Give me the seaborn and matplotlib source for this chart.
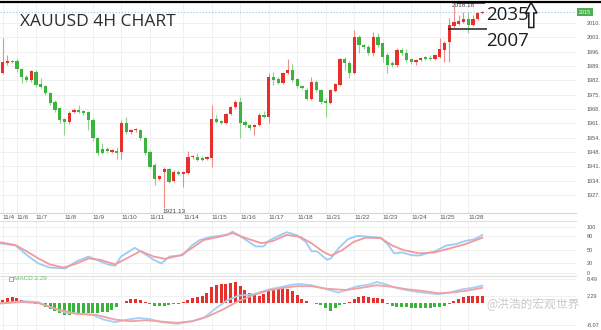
import numpy as np
import matplotlib
matplotlib.use("Agg")
import matplotlib.pyplot as plt
import seaborn as sns
from matplotlib.patches import Polygon, Rectangle

sns.set_theme(style="white")
plt.rcParams['font.family'] = ['DejaVu Sans', 'Noto Sans CJK SC']

# ---- 4H candles (index = bar number) ----
opens = [1986.0, 1990.8, 1991.8, 1991.8, 1987.9, 1984.1, 1982.7, 1986.5, 1980.7, 1979.8,
         1976.4, 1972.1, 1969.2, 1963.9, 1962.5, 1967.3, 1968.2, 1967.7, 1967.3, 1963.4,
         1954.8, 1949.5, 1949.5, 1948.0, 1948.5, 1948.0, 1962.0, 1957.7, 1958.6, 1958.6,
         1954.8, 1948.0, 1941.8, 1935.1, 1938.4, 1939.9, 1934.1, 1938.4, 1937.5, 1938.0,
         1945.6, 1945.6, 1945.2, 1944.7, 1945.2, 1963.9, 1962.9, 1962.0, 1966.3, 1969.7,
         1972.1, 1962.5, 1961.0, 1960.1, 1961.0, 1965.8, 1964.9, 1984.1, 1983.1, 1981.2,
         1986.0, 1987.4, 1983.1, 1979.8, 1977.8, 1973.5, 1981.7, 1977.8, 1972.6, 1971.6,
         1977.4, 1980.2, 1992.7, 1990.8, 1986.0, 2003.3, 1999.5, 1998.5, 1995.6, 2003.3,
         2000.4, 1994.7, 1990.8, 1989.9, 1997.1, 1995.6, 1992.7, 1991.3, 1992.3, 1993.7,
         1993.2, 1992.7, 1993.7, 1997.1, 2000.9, 2008.6, 2009.5, 2010.5, 2011.9, 2009.1,
         2011.9, 2014.8]
highs = [2002.8, 1994.7, 1992.3, 1992.7, 1988.4, 1985.1, 1987.4, 1987.4, 1983.6, 1980.2,
         1976.9, 1973.0, 1969.7, 1964.4, 1967.7, 1969.2, 1970.6, 1968.2, 1967.7, 1964.4,
         1955.3, 1952.4, 1950.4, 1949.5, 1950.4, 1963.4, 1964.9, 1959.1, 1959.6, 1959.1,
         1955.3, 1949.0, 1942.8, 1937.0, 1940.9, 1940.4, 1939.4, 1939.4, 1938.9, 1948.5,
         1946.6, 1947.6, 1946.0, 1946.0, 1970.6, 1965.8, 1963.4, 1966.8, 1970.2, 1973.0,
         1974.5, 1963.4, 1961.5, 1961.5, 1966.8, 1967.7, 1986.0, 1986.5, 1984.1, 1986.5,
         1992.7, 1990.3, 1983.6, 1980.2, 1978.8, 1984.1, 1982.7, 1978.3, 1974.0, 1978.3,
         1981.2, 1993.2, 1993.7, 1991.8, 2006.7, 2004.3, 2000.0, 1999.5, 2005.7, 2005.2,
         2000.9, 1995.6, 1991.8, 1998.0, 1998.0, 1997.5, 1993.2, 1992.7, 1993.7, 1994.2,
         1994.7, 1995.1, 2002.8, 2001.4, 2012.4, 2018.18, 2013.9, 2015.3, 2015.3, 2013.9,
         2015.3, 2015.8]
lows = [1985.5, 1989.9, 1990.8, 1986.5, 1981.2, 1981.7, 1981.7, 1979.3, 1978.8, 1975.4,
        1970.6, 1967.3, 1962.0, 1956.2, 1961.5, 1966.8, 1966.8, 1965.8, 1958.6, 1953.3,
        1946.6, 1947.1, 1947.6, 1947.6, 1944.7, 1944.7, 1956.7, 1956.7, 1957.7, 1953.8,
        1946.6, 1940.4, 1932.2, 1934.6, 1921.13, 1933.1, 1933.6, 1937.0, 1931.2, 1937.5,
        1944.7, 1943.7, 1943.7, 1944.2, 1940.9, 1962.0, 1961.5, 1961.5, 1965.8, 1969.2,
        1954.8, 1960.1, 1958.6, 1956.2, 1960.5, 1964.4, 1962.0, 1980.2, 1980.7, 1980.7,
        1985.5, 1981.7, 1978.8, 1978.3, 1973.0, 1973.0, 1976.9, 1971.1, 1964.9, 1971.1,
        1976.9, 1979.8, 1987.4, 1983.6, 1985.5, 1995.6, 1997.5, 1994.7, 1994.2, 1998.5,
        1991.3, 1986.0, 1988.9, 1988.9, 1994.7, 1991.3, 1990.3, 1989.9, 1991.8, 1992.3,
        1992.3, 1992.3, 1993.2, 1991.3, 1991.3, 2007.6, 2009.1, 2010.0, 2005.2, 2008.6,
        2011.5, 2014.4]
closes = [1991.3, 1991.8, 1991.3, 1987.9, 1984.1, 1982.7, 1987.0, 1980.2, 1979.3, 1976.4,
          1971.6, 1968.2, 1963.4, 1962.5, 1966.8, 1968.2, 1967.3, 1966.8, 1963.4, 1954.8,
          1947.6, 1947.6, 1948.5, 1949.0, 1947.6, 1962.0, 1957.7, 1958.6, 1959.1, 1954.8,
          1947.6, 1940.9, 1935.1, 1936.5, 1939.9, 1933.6, 1938.4, 1937.5, 1938.4, 1945.6,
          1946.0, 1944.2, 1944.2, 1945.6, 1963.9, 1962.5, 1962.0, 1966.3, 1969.7, 1972.1,
          1962.0, 1961.0, 1959.6, 1961.0, 1965.8, 1964.9, 1984.1, 1982.7, 1981.2, 1986.0,
          1987.4, 1982.7, 1979.8, 1978.8, 1973.5, 1981.7, 1977.8, 1972.1, 1971.6, 1977.8,
          1980.7, 1992.7, 1990.8, 1986.0, 2003.3, 1999.5, 1998.5, 1995.6, 2003.3, 1999.5,
          1993.7, 1989.9, 1989.9, 1997.1, 1995.6, 1992.3, 1991.3, 1992.3, 1993.2, 1992.7,
          1992.7, 1994.7, 1997.5, 2000.4, 2009.1, 2010.5, 2011.0, 2011.9, 2009.1, 2011.9,
          2014.8, 2015.3]

# ---- axis labels ----
day_ticks = [0, 3, 7, 13, 19, 25, 31, 38, 44, 50, 56, 62, 68, 74, 80, 86, 92, 98]
day_labels = ["11/4", "11/6", "11/7", "11/8", "11/9", "11/10", "11/11", "11/14", "11/15",
              "11/16", "11/17", "11/18", "11/21", "11/22", "11/23", "11/24", "11/25", "11/28"]
price_ticks = [2010.08, 2003.19, 1996.30, 1989.41, 1982.52, 1975.63, 1968.74, 1961.85,
               1954.96, 1948.07, 1941.18, 1934.29, 1927.40]
stoch_ticks = [100, 80, 50, 20, 0]
macd_ticks = [8.49, 2.29, -8.07]

# ---- stochastic (%K blue, %D red) ----
k_pos = [-0.6, 2.7, 5.1, 7.5, 9.9, 13.2, 15.6, 18.1, 19.7, 22.1, 23.7, 24.9, 27.8, 29.4,
         31.8, 33.4, 35.1, 37.9, 39.9, 41.5, 43.9, 47.2, 48.4, 49.6, 51.2, 53.3, 54.9, 56.1,
         57.7, 59.8, 61.8, 63.8, 65.0, 66.2, 68.3, 69.1, 70.7, 72.7, 74.7, 77.2, 79.6, 81.2,
         82.4, 84.0, 86.1, 87.7, 89.3, 90.9, 93.4, 95.4, 97.4, 99.4, 101.0]
k_val = [64, 59, 38, 20, 11, 9, 25, 35, 28, 18, 15, 35, 54, 44, 28, 20, 35, 38, 60, 71,
         78, 82, 89, 82, 71, 57, 57, 70, 78, 88, 82, 67, 47, 46, 28, 31, 53, 73, 80, 78,
         76, 60, 42, 44, 38, 37, 42, 46, 59, 62, 69, 73, 82]
d_pos = [-0.6, 2.7, 5.1, 7.5, 9.9, 12.8, 15.6, 18.1, 20.5, 23.7, 26.1, 29.0, 31.8, 34.2,
         37.5, 39.9, 42.3, 45.6, 48.4, 51.2, 54.5, 56.9, 59.8, 62.6, 65.0, 67.4, 69.1, 71.5,
         73.9, 76.4, 79.6, 82.0, 84.4, 87.7, 90.9, 94.2, 97.4, 101.0]
d_val = [66, 60, 46, 31, 18, 11, 20, 31, 28, 18, 31, 47, 35, 30, 38, 54, 71, 78, 86, 75,
         64, 69, 82, 78, 64, 46, 37, 49, 67, 76, 75, 59, 49, 42, 44, 53, 62, 76]

# ---- MACD ----
macd_pos = [-0.6, 4.3, 7.5, 9.9, 13.2, 16.4, 18.9, 21.3, 23.7, 26.2, 28.6, 31.0, 33.4, 36.7,
            39.9, 42.3, 44.8, 47.2, 49.6, 52.9, 56.1, 58.5, 61.0, 62.6, 65.0, 68.3, 70.7,
            72.7, 74.7, 77.2, 78.8, 80.4, 82.8, 85.3, 88.5, 91.7, 94.2, 96.6, 99.0, 101.0]
macd_val = [-0.34, 0.57, 0.23, -1.49, -3.55, -4.01, -4.35, -6.07, -6.98, -6.07, -5.50, -5.84,
            -6.98, -7.56, -6.64, -5.50, -2.06, 0.80, 2.52, 3.09, 4.81, 5.61, 6.53, 6.76, 6.30,
            4.81, 3.66, 4.81, 5.95, 6.53, 7.44, 6.76, 5.38, 4.47, 3.66, 3.09, 3.66, 4.81,
            5.38, 6.18]
signal_pos = [-0.6, 4.3, 7.5, 11.6, 15.6, 19.7, 23.7, 26.9, 30.2, 33.4, 36.7, 39.9, 43.2,
              46.4, 49.6, 52.9, 56.1, 59.3, 61.8, 65.0, 68.3, 72.3, 75.5, 78.8, 82.0, 85.3,
              88.5, 91.7, 94.2, 97.4, 101.0]
signal_val = [-0.11, 0.23, -0.11, -2.40, -4.01, -4.35, -6.07, -6.64, -6.30, -6.76, -7.21,
              -6.64, -4.92, -2.40, 0.57, 2.86, 4.47, 5.38, 5.95, 5.95, 5.04, 4.58, 5.38, 6.30,
              5.73, 4.81, 4.24, 3.44, 3.66, 4.24, 5.38]
macd_hist = [1.0, 1.7, 1.9, 1.7, 1.0, 0.3, -0.1,
             -0.3, -0.6, -1.5, -2.3, -3.0, -3.6, -4.3, -4.3, -4.0, -3.8, -3.8, -3.8, -3.6,
             -3.6, -3.4, -3.2, -2.6, -1.5, -0.2,
             0.5, 1.2, 1.5, 1.0, 0.4,
             -0.5, -1.0, -1.0, -1.0, -0.9, -0.6, -0.3,
             0.4, 1.1, 1.7, 2.0, 2.3, 3.4, 5.5, 6.4, 6.6, 6.9, 7.2, 7.3, 6.1, 4.6, 3.4, 2.9,
             2.6, 3.2, 4.6, 5.2, 5.2, 5.2, 4.9, 4.1, 2.9, 1.5, 0.5,
             -0.2, -0.4, -0.8, -2.0, -2.9, -2.0, -0.9, -0.3,
             0.4, 1.2, 2.2, 2.4, 2.2, 1.8, 1.8, 1.2,
             -0.4, -1.2, -1.4, -1.5, -1.7, -1.8, -1.8, -1.8, -1.8, -1.8, -1.6, -1.4, -1.0,
             -0.5,
             0.5, 1.4, 2.1, 2.3, 2.3, 2.3, 2.29]

RED = "#e5302c"
GREEN = "#3cb33c"
GRID = "#eeeeee"
TXT = "#555555"
SMALL = ["Liberation Sans", "DejaVu Sans"]
W, H = 601, 330
PLOT_RIGHT = 576

fig = plt.figure(figsize=(W / 100, H / 100), dpi=100)
fig.patch.set_facecolor("white")


def axes_px(top, bottom, right=PLOT_RIGHT):
    return fig.add_axes([0, 1 - bottom / H, right / W, (bottom - top) / H])


ax = axes_px(2, 213)
ax_st = axes_px(221, 275)
ax_md = axes_px(276, 330)
XLIM = (-0.57, 120.7)

o = np.array(opens)
c = np.array(closes)
hi = np.array(highs)
lo = np.array(lows)
idx = np.arange(len(o))
up = c >= o
col = np.where(up, RED, GREEN)
wick_col = np.where(up, "#ee8a88", "#8fd18f")

# candles
ax.vlines(idx, lo, hi, colors=wick_col, lw=0.8, zorder=2)
ax.bar(idx, np.maximum(np.abs(c - o), 0.55), bottom=np.minimum(o, c), width=0.68,
       color=col, linewidth=0, zorder=3)
ax.set_xlim(*XLIM)
ax.set_ylim(1918.73, 2020.12)

# last price line and tag
ax.axhline(c[-1], color="#a8c6f0", lw=0.8, ls=(0, (1.2, 1.6)), zorder=1)
ax.annotate(f"{c[-1]:.0f}", xy=(1, c[-1]), xycoords=("axes fraction", "data"),
            xytext=(2.2, 0), textcoords="offset points", va="center", ha="left",
            fontsize=3.9, color="white", annotation_clip=False, family=SMALL,
            bbox=dict(boxstyle="square,pad=0.3", fc="#4caf50", ec="none"))

# extreme labels
i_hi = int(np.argmax(hi))
i_lo = int(np.argmin(lo))
ax.annotate(f"{hi[i_hi]:.2f}", xy=(i_hi, hi[i_hi]), xytext=(-1.5, 0.5),
            textcoords="offset points", ha="left", va="center", fontsize=4.6,
            color="#444444", annotation_clip=False, family=SMALL)
ax.annotate(f"{lo[i_lo]:.2f}", xy=(i_lo, lo[i_lo]), xytext=(-1.2, -0.6),
            textcoords="offset points", ha="left", va="top", fontsize=4.6,
            color="#444444", annotation_clip=False, family=SMALL)

# range marks
ax.hlines(2007, 93.7, 102.0, color="#222222", lw=1.1, zorder=4, clip_on=False)
ax.hlines(2019.7, 95.6, 101.6, color="#222222", lw=1.1, zorder=4, clip_on=False)

ax.set_xticks(day_ticks)
ax.set_xticklabels(day_labels, ha="left", family=SMALL)
ax.set_yticks(price_ticks)
ax.set_yticklabels([f"{int(v)}." for v in price_ticks], family=SMALL)

# stochastic
sns.lineplot(x=k_pos, y=k_val, ax=ax_st, color="#9ecbf5", lw=1.3, zorder=3)
sns.lineplot(x=d_pos, y=d_val, ax=ax_st, color="#f29a9a", lw=1.3, zorder=3)
ax_st.set_xlim(*XLIM)
ax_st.set_ylim(-5.1, 112.3)
ax_st.set_xticks(day_ticks)
ax_st.set_yticks(stoch_ticks)
ax_st.set_yticklabels([str(v) for v in stoch_ticks], family=SMALL)

# MACD
hist = np.array(macd_hist)
ax_md.bar(np.arange(len(hist)), hist, width=0.64,
          color=np.where(hist >= 0, RED, GREEN), linewidth=0, zorder=2)
sns.lineplot(x=macd_pos, y=macd_val, ax=ax_md, color="#a6cff5", lw=1.3, zorder=3)
sns.lineplot(x=signal_pos, y=signal_val, ax=ax_md, color="#f3a0a0", lw=1.3, zorder=3)
ax_md.set_xlim(*XLIM)
ax_md.set_ylim(-9.8, 9.62)
ax_md.set_xticks(day_ticks)
ax_md.set_yticks(macd_ticks)
ax_md.set_yticklabels([f"{v:.2f}" for v in macd_ticks], family=SMALL)

for a in (ax, ax_st, ax_md):
    a.set_facecolor("white")
    a.set_xlabel("")
    a.set_ylabel("")
    a.grid(True, color=GRID, lw=0.6, zorder=0)
    a.set_axisbelow(True)
    for s in a.spines.values():
        s.set_visible(False)
    a.tick_params(axis="y", left=False, right=False, labelleft=False, labelright=True,
                  labelsize=4.0, labelcolor=TXT, pad=1.5)
    a.tick_params(axis="x", length=0, labelsize=4.6, labelcolor=TXT, pad=1.2)
ax_st.tick_params(axis="x", labelbottom=False)
ax_md.tick_params(axis="x", labelbottom=False)
ax.spines["bottom"].set_visible(True)
ax.spines["bottom"].set_color("#d6d6d6")
ax.spines["bottom"].set_linewidth(0.8)
for a in (ax_st, ax_md):
    a.spines["top"].set_visible(True)
    a.spines["top"].set_color("#e0e0e0")
    a.spines["top"].set_linewidth(0.8)

# frame edge across the top
fig.add_artist(plt.Line2D([0, 1], [1 - 2.2 / H, 1 - 2.2 / H], color="black", lw=1.6,
                          transform=fig.transFigure))

# headings and notes
fig.text(20 / W, 1 - 21.5 / H, "XAUUSD 4H CHART", fontsize=12.5, color="#2b2b2b",
         family=["Open Sans", "DejaVu Sans"], va="center", ha="left")
fig.text(486 / W, 1 - 15.5 / H, "2035", fontsize=13.5, color="#1e1e1e",
         family=["Open Sans", "DejaVu Sans"], va="center", ha="left")
fig.text(486 / W, 1 - 41 / H, "2007", fontsize=13.5, color="#1e1e1e",
         family=["Open Sans", "DejaVu Sans"], va="center", ha="left")

# hollow up arrow beside the target
arrow_px = [(531, 2.5), (525.5, 13), (528.8, 13), (528.8, 27.5), (533.8, 27.5),
            (533.8, 13), (537, 13)]
fig.add_artist(Polygon([(x / W, 1 - y / H) for x, y in arrow_px], closed=True,
                       fill=False, ec="#1e1e1e", lw=1.1, transform=fig.transFigure))

# MACD caption
fig.add_artist(Rectangle((9 / W, 1 - 281 / H), 4 / W, 4 / H, fill=False, ec="#888888",
                         lw=0.5, transform=fig.transFigure))
fig.text(14 / W, 1 - 279 / H, "MACD 2.29", fontsize=4.6, color="#6cc46c",
         va="center", ha="left", family=SMALL)

# account mark
fig.text(486 / W, 1 - 304 / H, "@洪浩的宏观世界", fontsize=8.5, color="#c4c4c4",
         family=["Noto Sans CJK SC", "DejaVu Sans"], va="center", ha="left", alpha=0.9)

fig.savefig("out.png", dpi=100, facecolor="white")
